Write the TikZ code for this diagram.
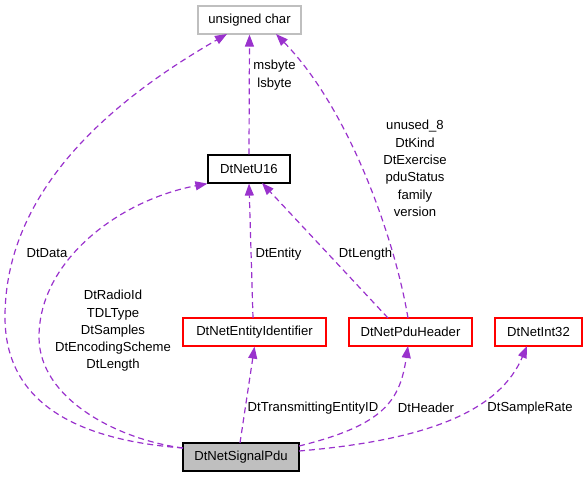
\documentclass[tikz,border=0pt]{standalone}
\usepackage{fontspec}
\setmainfont{Liberation Sans}
\usepackage{tikz}
\usetikzlibrary{arrows.meta}
\definecolor{edgepurple}{HTML}{9A32CD}
\definecolor{boxgrey}{HTML}{BFBFBF}
\tikzstyle{node_class} = [rectangle, draw, line width=1.2pt, inner sep=0pt, minimum height=28pt, font=\fontsize{13.1}{17.3}\selectfont]
\tikzstyle{node_red} = [node_class, draw=red]
\tikzstyle{node_plain} = [node_class, draw=black]
\tikzstyle{node_builtin} = [node_class, draw=boxgrey]
\tikzstyle{node_focus} = [node_class, draw=black, fill=boxgrey]
\tikzstyle{edge_member} = [draw=edgepurple, line width=1.2pt, dash pattern=on 6pt off 4pt, -{Triangle[length=12pt, width=9pt]}]
\tikzstyle{edge_label} = [align=center, inner sep=0pt, font=\fontsize{13.1}{17.3}\selectfont]

\begin{document}
\begin{tikzpicture}[x=1pt, y=-1pt]
			\useasboundingbox (0,0) rectangle (587,477);
			\node (UC) at (249.5,20) [node_builtin, minimum width=103pt] {unsigned char};
			\node (U16) at (249,169) [node_plain, minimum width=82pt] {DtNetU16};
			\node (EID) at (254.5,332) [node_red, minimum width=143pt] {DtNetEntityIdentifier};
			\node (PDH) at (410.5,332) [node_red, minimum width=123pt] {DtNetPduHeader};
			\node (I32) at (538.5,332) [node_red, minimum width=87pt] {DtNetInt32};
			\node (SIG) at (241,457) [node_focus, minimum width=116pt] {DtNetSignalPdu};
			
			\coordinate (SIGW) at (183,448);
			
			\draw[edge_member] (U16.north) -- (UC.south);
			\draw[edge_member] (SIGW) .. controls (50,438) and (5,385) .. (5,317) .. controls (5,180) and (130,90) .. (227,34);
			\draw[edge_member] (SIGW) .. controls (120,440) and (39,400) .. (39,337) .. controls (39,260) and (120,200) .. (U16.south west);
			\draw[edge_member] (253,318) -- (U16.south);
			\draw[edge_member] (388,318) -- (262,183);
			\draw[edge_member] (408,318) .. controls (395,240) and (350,110) .. (276,34);
			\draw[edge_member] (240,443) -- (EID.south);
			\draw[edge_member] (299,446) .. controls (385,425) and (400,400) .. (408,346);
			\draw[edge_member] (299,451) .. controls (430,440) and (500,410) .. (527,346);
			
			\node (L_byte) at (274.5,75) [edge_label] {msbyte\\lsbyte};
			\node (L_hdr) at (415,168.5) [edge_label] {unused\_8\\DtKind\\DtExercise\\pduStatus\\family\\version};
			\node (L_data) at (47,253) [edge_label] {DtData};
			\node (L_entity) at (278.5,254) [edge_label] {DtEntity};
			\node (L_length) at (365.5,254) [edge_label] {DtLength};
			\node (L_sig) at (113,331) [edge_label] {DtRadioId\\TDLType\\DtSamples\\DtEncodingScheme\\DtLength};
			\node (L_tx) at (313,408) [edge_label] {DtTransmittingEntityID};
			\node (L_header) at (426,408) [edge_label] {DtHeader};
			\node (L_rate) at (530,408) [edge_label] {DtSampleRate};
		\end{tikzpicture}
\end{document}
